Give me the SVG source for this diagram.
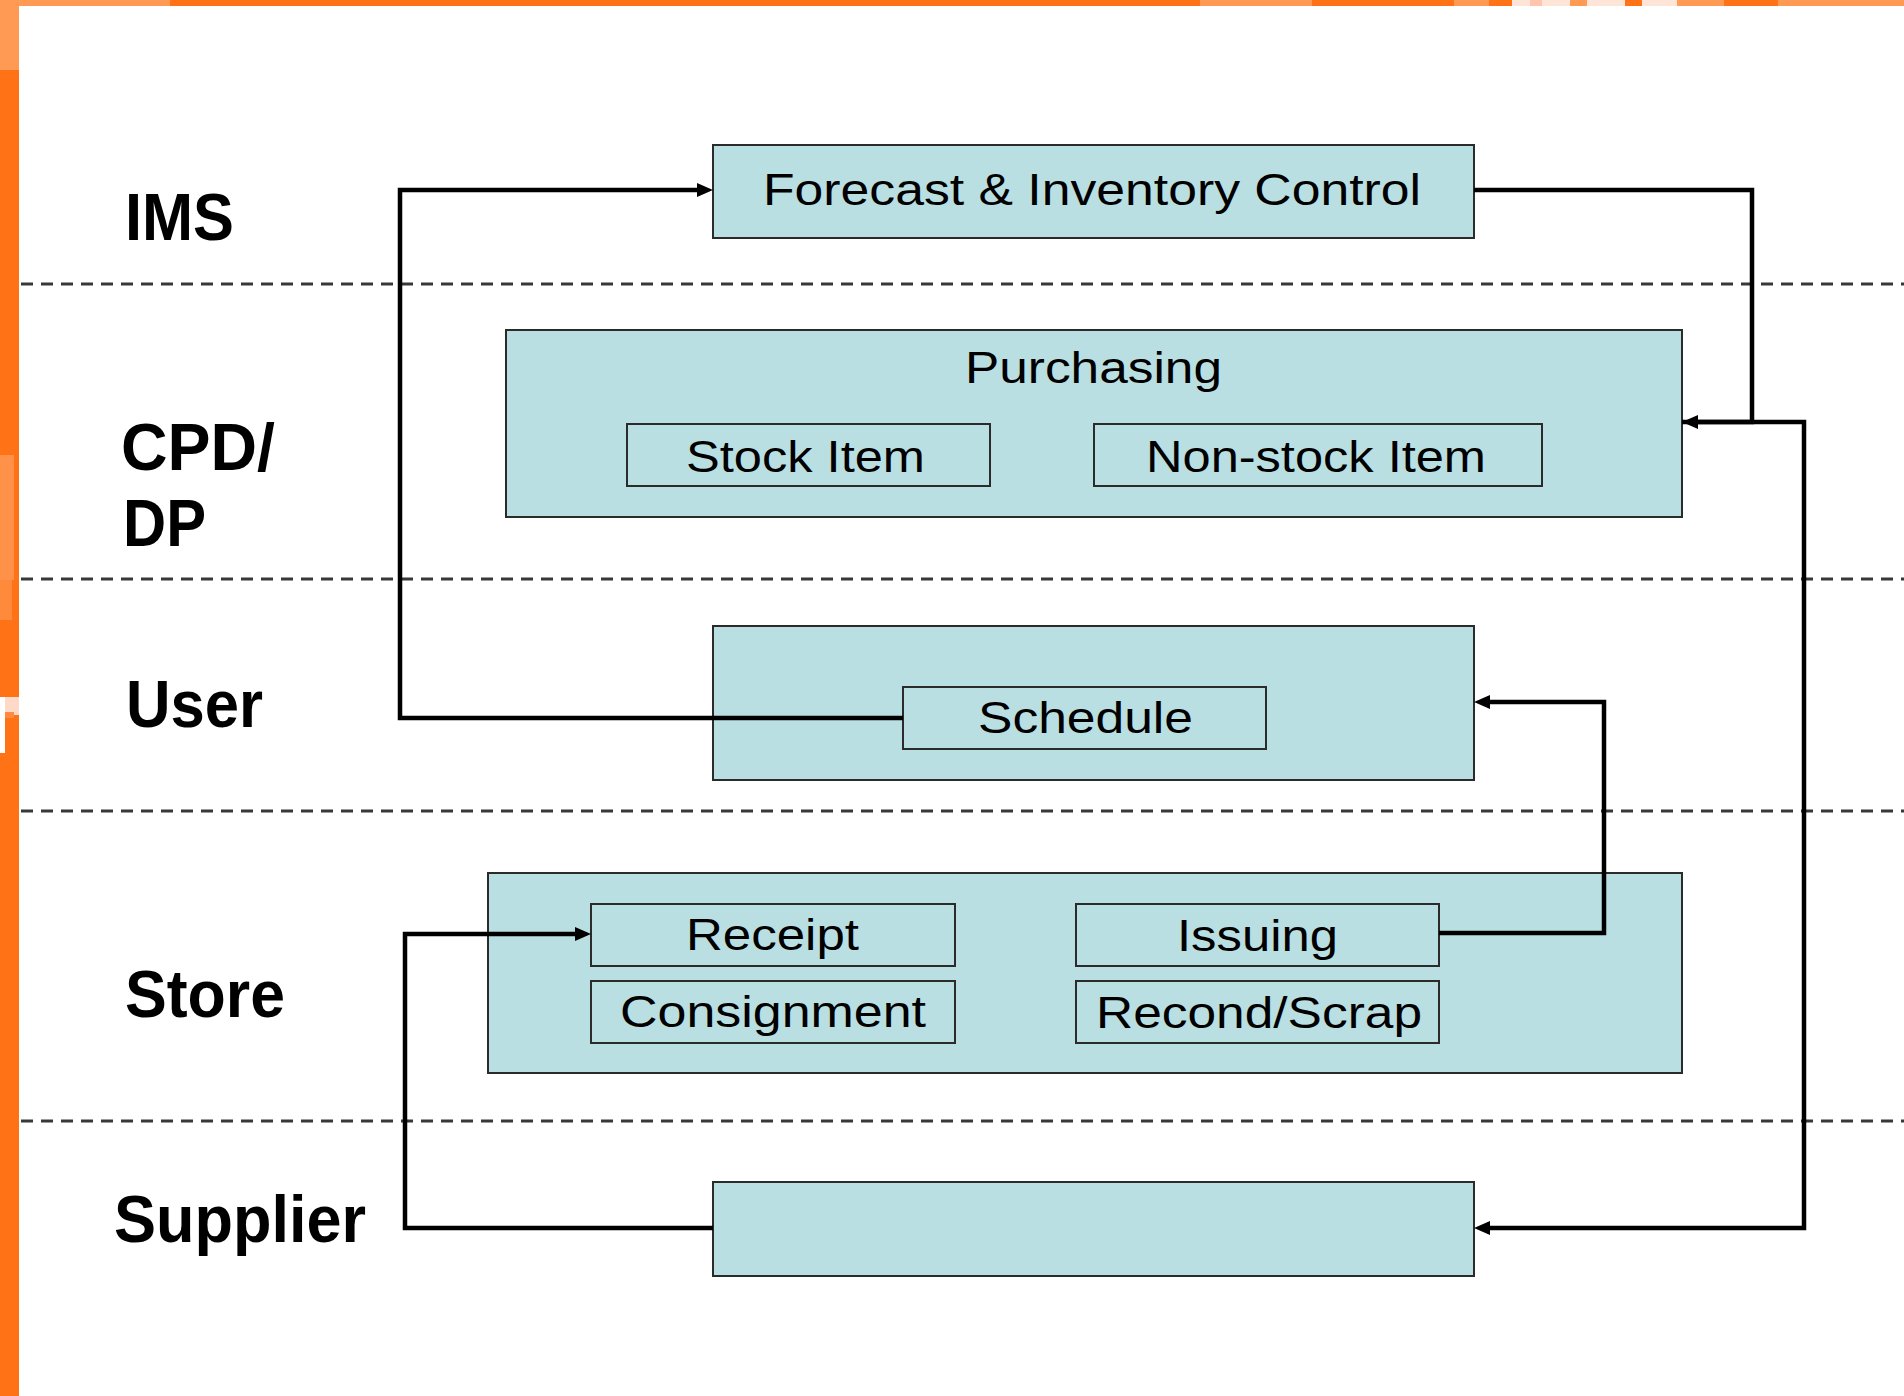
<svg xmlns="http://www.w3.org/2000/svg" width="1904" height="1396" viewBox="0 0 1904 1396">
  <style>
    .lane { stroke: #383838; stroke-width: 3; stroke-dasharray: 12 8; fill: none; }
    .box { fill: #b9dfe2; stroke: #2b2b2b; stroke-width: 2; }
    .label { font-family: "Liberation Sans", Arial, sans-serif; font-size: 44px; fill: #000; }
    .lanelabel { font-family: "Liberation Sans", Arial, sans-serif; font-weight: bold; font-size: 67px; fill: #000; }
    .conn { fill: none; stroke: #000; stroke-width: 4.5; stroke-linejoin: miter; }
  </style>
  <defs>
    <marker id="arrow" markerUnits="userSpaceOnUse" markerWidth="16" markerHeight="14" refX="6" refY="7" orient="auto">
      <path d="M0,0 L16,7 L0,14 Z" fill="#000"/>
    </marker>
  </defs>

  <!-- page background and orange frame -->
  <rect x="0" y="0" width="1904" height="1396" fill="#ffffff"/>
  <g id="frame">
    <rect x="0" y="0" width="1904" height="6" fill="#ff7316"/>
    <rect x="0" y="0" width="170" height="6" fill="#ff9a55"/>
    <rect x="1200" y="0" width="112" height="6" fill="#ff9a55"/>
    <rect x="1454" y="0" width="35" height="6" fill="#ff9a55"/>
    <rect x="1512" y="0" width="165" height="6" fill="#ffe4d8"/>
    <rect x="1530" y="0" width="12" height="6" fill="#ffc3b0"/>
    <rect x="1570" y="0" width="17" height="6" fill="#ff9a55"/>
    <rect x="1625" y="0" width="17" height="6" fill="#ff7316"/>
    <rect x="1677" y="0" width="47" height="6" fill="#ff9a55"/>
    <rect x="1778" y="0" width="126" height="6" fill="#ff9a55"/>
    <rect x="0" y="0" width="19" height="1396" fill="#ff7316"/>
    <rect x="0" y="0" width="19" height="70" fill="#ff9a55"/>
    <rect x="0" y="455" width="14" height="125" fill="#ff9a55" opacity="0.8"/>
    <rect x="0" y="580" width="12" height="40" fill="#ff9a55" opacity="0.6"/>
    <rect x="0" y="697" width="19" height="18" fill="#ffd9c8"/>
    <rect x="0" y="697" width="5" height="56" fill="#ffffff"/>
    <rect x="5" y="712" width="9" height="6" fill="#ff8a40"/>
  </g>

  <!-- swim-lane separators -->
  <g id="lanes">
    <line class="lane" x1="21" y1="284" x2="1904" y2="284"/>
    <line class="lane" x1="21" y1="579" x2="1904" y2="579"/>
    <line class="lane" x1="21" y1="811" x2="1904" y2="811"/>
    <line class="lane" x1="21" y1="1121" x2="1904" y2="1121"/>
  </g>

  <!-- lane titles -->
  <g id="lane-labels">
    <text class="lanelabel" x="125" y="240" textLength="109" lengthAdjust="spacingAndGlyphs">IMS</text>
    <text class="lanelabel" x="121" y="470" textLength="154" lengthAdjust="spacingAndGlyphs">CPD/</text>
    <text class="lanelabel" x="123" y="546" textLength="83" lengthAdjust="spacingAndGlyphs">DP</text>
    <text class="lanelabel" x="126" y="727" textLength="137" lengthAdjust="spacingAndGlyphs">User</text>
    <text class="lanelabel" x="125" y="1017" textLength="160" lengthAdjust="spacingAndGlyphs">Store</text>
    <text class="lanelabel" x="114" y="1242" textLength="252" lengthAdjust="spacingAndGlyphs">Supplier</text>
  </g>

  <!-- nodes -->
  <g id="forecast">
    <rect class="box" x="713" y="145" width="761" height="93"/>
    <text class="label" x="763" y="205" textLength="658" lengthAdjust="spacingAndGlyphs">Forecast &amp; Inventory Control</text>
  </g>

  <g id="purchasing">
    <rect class="box" x="506" y="330" width="1176" height="187"/>
    <text class="label" x="965" y="383" textLength="257" lengthAdjust="spacingAndGlyphs">Purchasing</text>
  </g>
  <g id="stock-item">
    <rect class="box" x="627" y="424" width="363" height="62"/>
    <text class="label" x="686" y="472" textLength="239" lengthAdjust="spacingAndGlyphs">Stock Item</text>
  </g>
  <g id="non-stock-item">
    <rect class="box" x="1094" y="424" width="448" height="62"/>
    <text class="label" x="1146" y="472" textLength="340" lengthAdjust="spacingAndGlyphs">Non-stock Item</text>
  </g>

  <g id="user">
    <rect class="box" x="713" y="626" width="761" height="154"/>
  </g>
  <g id="schedule">
    <rect class="box" x="903" y="687" width="363" height="62"/>
    <text class="label" x="978" y="733" textLength="215" lengthAdjust="spacingAndGlyphs">Schedule</text>
  </g>

  <g id="store">
    <rect class="box" x="488" y="873" width="1194" height="200"/>
  </g>
  <g id="receipt">
    <rect class="box" x="591" y="904" width="364" height="62"/>
    <text class="label" x="686" y="950" textLength="173" lengthAdjust="spacingAndGlyphs">Receipt</text>
  </g>
  <g id="consignment">
    <rect class="box" x="591" y="981" width="364" height="62"/>
    <text class="label" x="620" y="1027" textLength="306" lengthAdjust="spacingAndGlyphs">Consignment</text>
  </g>
  <g id="issuing">
    <rect class="box" x="1076" y="904" width="363" height="62"/>
    <text class="label" x="1177" y="951" textLength="161" lengthAdjust="spacingAndGlyphs">Issuing</text>
  </g>
  <g id="recond-scrap">
    <rect class="box" x="1076" y="981" width="363" height="62"/>
    <text class="label" x="1096" y="1028" textLength="326" lengthAdjust="spacingAndGlyphs">Recond/Scrap</text>
  </g>

  <g id="supplier">
    <rect class="box" x="713" y="1182" width="761" height="94"/>
  </g>

  <!-- connectors -->
  <g id="connectors">
    <path class="conn" d="M903,718 H400 V190 H703" marker-end="url(#arrow)"/>
    <path class="conn" d="M1682,422 H1804 V1228 H1484" marker-end="url(#arrow)"/>
    <path class="conn" d="M1474,190 H1752 V422 H1692" marker-end="url(#arrow)"/>
    <path class="conn" d="M1439,933 H1604 V702 H1484" marker-end="url(#arrow)"/>
    <path class="conn" d="M713,1228 H405 V934 H581" marker-end="url(#arrow)"/>
  </g>
</svg>
